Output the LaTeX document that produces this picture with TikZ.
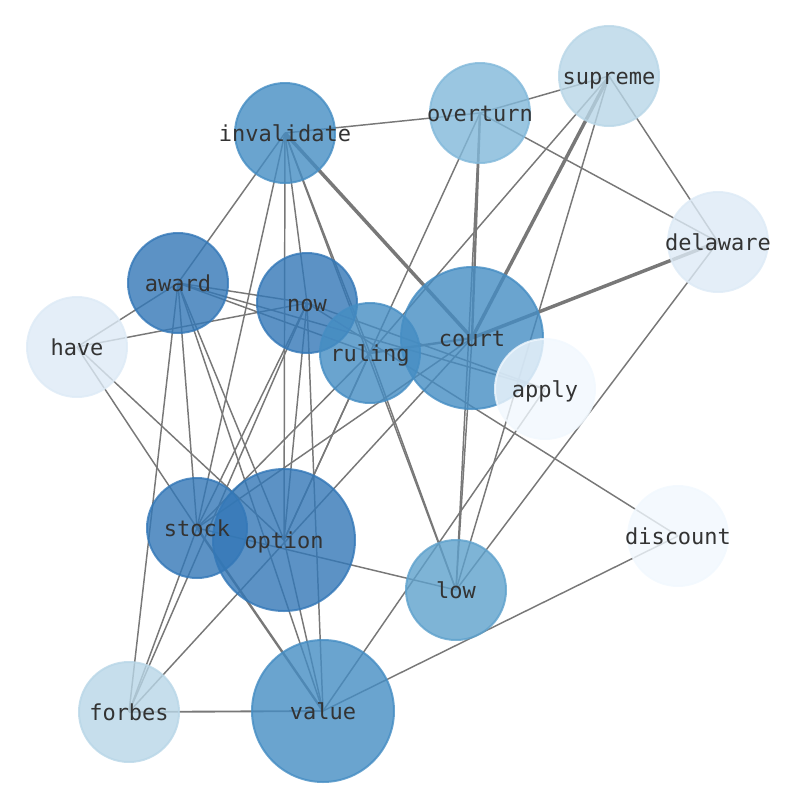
\documentclass[tikz,border=0pt]{standalone}
\usepackage{fontspec}
\setmonofont{DejaVu Sans Mono}
\usepackage{tikz}
\usetikzlibrary{backgrounds}
\definecolor{blueA}{RGB}{51,119,183}
\definecolor{blueB}{RGB}{69,141,195}
\definecolor{blueC}{RGB}{94,161,204}
\definecolor{blueD}{RGB}{129,184,218}
\definecolor{blueE}{RGB}{184,214,231}
\definecolor{blueF}{RGB}{221,234,246}
\definecolor{blueG}{RGB}{241,248,254}
\definecolor{edgegray}{RGB}{120,120,120}
\newcommand{\wlabel}[1]{\makebox[0pt]{#1}}

\begin{document}
\begin{tikzpicture}[x=0.75pt,y=-0.75pt,
	word/.style={circle,inner sep=0pt,minimum size=75pt,line width=1.5pt,
		fill=#1,draw=#1,fill opacity=0.8,draw opacity=0.8,text opacity=1,
		text height=12.4pt,text depth=0.4pt,
		text=black!80,font=\ttfamily\fontsize{16.5}{18}\selectfont},
	bigword/.style={word=#1,minimum size=106.5pt},
	link/.style={edgegray,line width=1.1pt},
	heavy/.style={edgegray,line width=2.6pt},
	medium/.style={edgegray,line width=1.8pt}]
	
	\useasboundingbox (0,0) rectangle (794,790);
	
	\node[word=blueE] (supreme) at (609,76) {\wlabel{supreme}};
	\node[word=blueD] (overturn) at (480,113) {\wlabel{overturn}};
	\node[word=blueB] (invalidate) at (285,133) {\wlabel{invalidate}};
	\node[word=blueF] (delaware) at (718,242) {\wlabel{delaware}};
	\node[word=blueA] (award) at (178,283) {\wlabel{award}};
	\node[word=blueA] (now) at (307,303) {\wlabel{now}};
	\node[word=blueF] (have) at (77,347) {\wlabel{have}};
	\node[bigword=blueB] (court) at (472,338) {\wlabel{court}};
	\node[word=blueB] (ruling) at (370,353) {\wlabel{ruling}};
	\node[word=blueG] (apply) at (545,389) {\wlabel{apply}};
	\node[word=blueG] (discount) at (678,536) {\wlabel{discount}};
	\node[bigword=blueA] (option) at (284,540) {\wlabel{option}};
	\node[word=blueA] (stock) at (197,528) {\wlabel{stock}};
	\node[word=blueC] (low) at (456,590) {\wlabel{low}};
	\node[word=blueE] (forbes) at (129,712) {\wlabel{forbes}};
	\node[bigword=blueB] (value) at (323,711) {\wlabel{value}};
	
	\begin{scope}[on background layer]
		% heavy links
		\draw[heavy] (invalidate.center) -- (court.center);
		\draw[heavy] (supreme.center) -- (court.center);
		\draw[heavy] (delaware.center) -- (court.center);
		\draw[medium] (ruling.center) -- (court.center);
		\draw[medium] (overturn.center) -- (court.center);
		\draw[medium] (stock.center) -- (value.center);
		\draw[link,line width=1.4pt] (forbes.center) -- (value.center);
		
		\draw[link] (invalidate.center) -- (overturn.center);
		\draw[link] (invalidate.center) -- (award.center);
		\draw[link] (invalidate.center) -- (stock.center);
		\draw[link] (invalidate.center) -- (option.center);
		\draw[link] (invalidate.center) -- (now.center);
		\draw[link] (invalidate.center) -- (ruling.center);
		\draw[link] (invalidate.center) -- (low.center);
		
		\draw[link] (overturn.center) -- (supreme.center);
		\draw[link] (overturn.center) -- (delaware.center);
		\draw[link] (overturn.center) -- (low.center);
		\draw[link] (overturn.center) -- (option.center);
		
		\draw[link] (supreme.center) -- (delaware.center);
		\draw[link] (supreme.center) -- (low.center);
		\draw[link] (supreme.center) -- (ruling.center);
		\draw[link] (delaware.center) -- (low.center);
		
		\draw[link] (court.center) -- (stock.center);
		\draw[link] (court.center) -- (low.center);
		\draw[link] (court.center) -- (forbes.center);
		
		\draw[link] (ruling.center) -- (low.center);
		\draw[link] (ruling.center) -- (stock.center);
		\draw[link] (ruling.center) -- (option.center);
		
		\draw[link] (award.center) -- (have.center);
		\draw[link] (award.center) -- (now.center);
		\draw[link] (award.center) -- (forbes.center);
		\draw[link] (award.center) -- (stock.center);
		\draw[link] (award.center) -- (option.center);
		\draw[link] (award.center) -- (value.center);
		\draw[link] (award.center) -- (apply.center);
		\draw[link] (award.center) -- (ruling.center);
		
		\draw[link] (now.center) -- (have.center);
		\draw[link] (now.center) -- (stock.center);
		\draw[link] (now.center) -- (forbes.center);
		\draw[link] (now.center) -- (option.center);
		\draw[link] (now.center) -- (value.center);
		\draw[link] (now.center) -- (apply.center);
		\draw[link] (now.center) -- (discount.center);
		
		\draw[link] (have.center) -- (stock.center);
		\draw[link] (have.center) -- (option.center);
		
		\draw[link] (stock.center) -- (forbes.center);
		\draw[link] (stock.center) -- (low.center);
		\draw[link] (option.center) -- (value.center);
		\draw[link] (value.center) -- (apply.center);
		\draw[link] (value.center) -- (discount.center);
	\end{scope}
	
\end{tikzpicture}
\end{document}
